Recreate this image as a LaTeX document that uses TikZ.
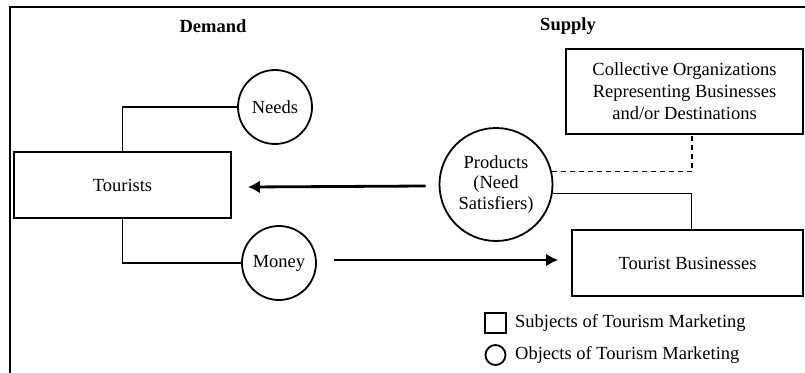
\documentclass[tikz,border=0pt]{standalone}
\usepackage{fontspec}
\setmainfont{Liberation Serif}
\usetikzlibrary{arrows.meta}
\begin{document}
\begin{tikzpicture}[x=1pt,y=-1pt,
  every node/.style={font=\fontsize{18.5}{22}\selectfont, inner sep=0pt},
  subj/.style={draw, line width=1.8pt, rectangle, align=center},
  obj/.style={draw, line width=1.8pt, circle, align=center},
  conn/.style={line width=1.8pt},
  flow/.style={line width=2.8pt, -{Latex[length=12pt,width=13pt]}},
  head/.style={font=\fontsize{18.5}{22}\selectfont\bfseries}]
\useasboundingbox (0,0) rectangle (805,372);
% frame
\draw[line width=2pt] (10,385) -- (10,7) -- (820,7);
% headings
\node[head] (demand) at (213,26) {Demand};
\node[head] (supply) at (568,26) {Supply};
% subjects
\node[subj, minimum width=217pt, minimum height=66pt] (tourists) at (122.5,185) {Tourists};
\node[subj, minimum width=237pt, minimum height=85pt] (collective) at (684.5,91.5)
  {Collective Organizations\\Representing Businesses\\and/or Destinations};
\node[subj, minimum width=231pt, minimum height=66pt] (tb) at (687.5,263) {Tourist Businesses};
% objects
\node[obj, minimum size=74pt] (needs) at (275,107) {Needs};
\node[obj, minimum size=74pt] (money) at (279,263) {Money};
\node[obj, minimum size=113pt, font=\fontsize{18.5}{20.5}\selectfont] (products) at (496,184.5) {Products\\(Need\\Satisfiers)};
% connectors
\draw[conn] (needs.west) -| (tourists.north);
\draw[conn] (tourists.south) |- (money.west);
\draw[conn, dashed, dash pattern=on 5pt off 4pt] (products.13) -| ([xshift=7.5pt]collective.south);
\draw[conn] (products.-9) -| ([xshift=4pt]tb.north);
% flows
\draw[flow] ([xshift=-13pt,yshift=-1.5pt]products.west) -- ([xshift=16pt,yshift=-2pt]tourists.east);
\draw[flow] ([xshift=17pt,yshift=3pt]money.east) -- ([xshift=-13pt,yshift=3pt]tb.west);
% legend
\node[draw, line width=1.8pt, minimum width=21pt, minimum height=20pt] (lsq) at (495.5,323) {};
\node[anchor=west] (lsqt) at (515,323) {Subjects of Tourism Marketing};
\node[draw, circle, line width=1.8pt, minimum size=20pt] (lci) at (495.5,355) {};
\node[anchor=west] (lcit) at (515,355) {Objects of Tourism Marketing};
\end{tikzpicture}
\end{document}
